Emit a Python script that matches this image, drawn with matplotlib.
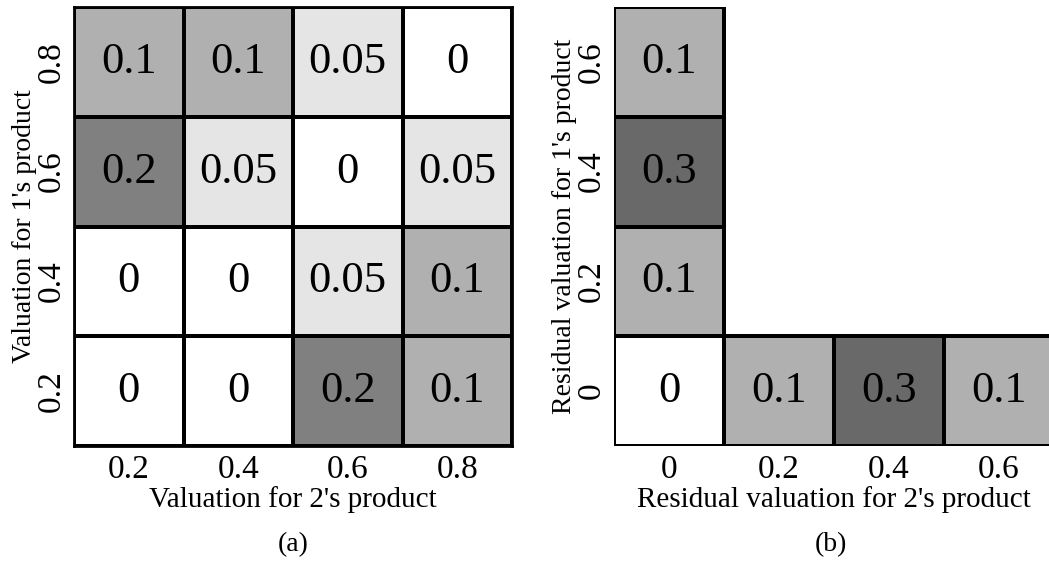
import numpy as np
import matplotlib
matplotlib.use("Agg")
import matplotlib.pyplot as plt
from matplotlib.colors import ListedColormap, BoundaryNorm

plt.rcParams["font.family"] = ["Liberation Serif", "DejaVu Serif"]

# panel (a): joint valuation distribution, rows from bottom (0.2) to top (0.8)
val_ticks = ["0.2", "0.4", "0.6", "0.8"]
probs_a = [
    [0, 0, 0.2, 0.1],        # v1 = 0.2
    [0, 0, 0.05, 0.1],       # v1 = 0.4
    [0.2, 0.05, 0, 0.05],    # v1 = 0.6
    [0.1, 0.1, 0.05, 0],     # v1 = 0.8
]

# panel (b): residual valuations, only first column / bottom row are defined
res_ticks = ["0", "0.2", "0.4", "0.6"]
res_col = [0, 0.1, 0.3, 0.1]   # residual 2 = 0, residual 1 = 0..0.6
res_row = [0, 0.1, 0.3, 0.1]   # residual 1 = 0, residual 2 = 0..0.6

# grey shades per probability level (0, 0.05, 0.1, 0.2, 0.3)
greys = ["#ffffff", "#e5e5e5", "#b0b0b0", "#808080", "#696969"]
bounds = [-0.01, 0.025, 0.075, 0.15, 0.25, 0.35]
cmap = ListedColormap(greys)
norm = BoundaryNorm(bounds, cmap.N)


def fmt(v):
    return "0" if v == 0 else f"{v:g}"


def style_axes(ax, ticks, xlabel, ylabel, frame=True):
    ax.set_xticks(np.arange(4) + 0.5)
    ax.set_yticks(np.arange(4) + 0.5)
    ax.set_xticklabels(ticks, fontsize=24)
    ax.set_yticklabels(ticks, fontsize=24, rotation=90, va="center")
    ax.tick_params(axis="x", length=0, pad=6)
    ax.tick_params(axis="y", length=0, pad=5)
    ax.set_xlabel(xlabel, fontsize=21, labelpad=1)
    ax.set_ylabel(ylabel, fontsize=20, labelpad=0)
    ax.set_xlim(0, 4)
    ax.set_ylim(0, 4)
    for s in ax.spines.values():
        s.set_visible(frame)
        s.set_linewidth(2)


fig = plt.figure(figsize=(10.49, 5.66), dpi=100)

# (a)
ax1 = fig.add_axes([74 / 1049, 120 / 566, 438 / 1049, 439 / 566])
A = np.array(probs_a, dtype=float)
ax1.pcolormesh(np.arange(5), np.arange(5), A, cmap=cmap, norm=norm,
               edgecolors="black", linewidth=1.5)
for i in range(4):
    for j in range(4):
        ax1.text(j + 0.5, i + 0.5, fmt(A[i, j]), ha="center", va="center", fontsize=32)
style_axes(ax1, val_ticks, "Valuation for 2's product", "Valuation for 1's product")

# (b)
ax2 = fig.add_axes([614 / 1049, 120 / 566, 440 / 1049, 439 / 566])
col = np.array(res_col, dtype=float).reshape(4, 1)
row = np.array(res_row, dtype=float).reshape(1, 4)
ax2.pcolormesh([0, 1], np.arange(5), col, cmap=cmap, norm=norm,
               edgecolors="black", linewidth=1.5)
ax2.pcolormesh(np.arange(5), [0, 1], row, cmap=cmap, norm=norm,
               edgecolors="black", linewidth=1.5)
for i, v in enumerate(res_col):
    ax2.text(0.5, i + 0.5, fmt(v), ha="center", va="center", fontsize=32)
for j, v in enumerate(res_row[1:], start=1):
    ax2.text(j + 0.5, 0.5, fmt(v), ha="center", va="center", fontsize=32)
style_axes(ax2, res_ticks, "Residual valuation for 2's product",
           "Residual valuation for 1's product", frame=False)

fig.text(293 / 1049, 1 - 545 / 566, "(a)", ha="center", va="center", fontsize=20)
fig.text(831 / 1049, 1 - 545 / 566, "(b)", ha="center", va="center", fontsize=20)

fig.savefig("out.png", dpi=100)
